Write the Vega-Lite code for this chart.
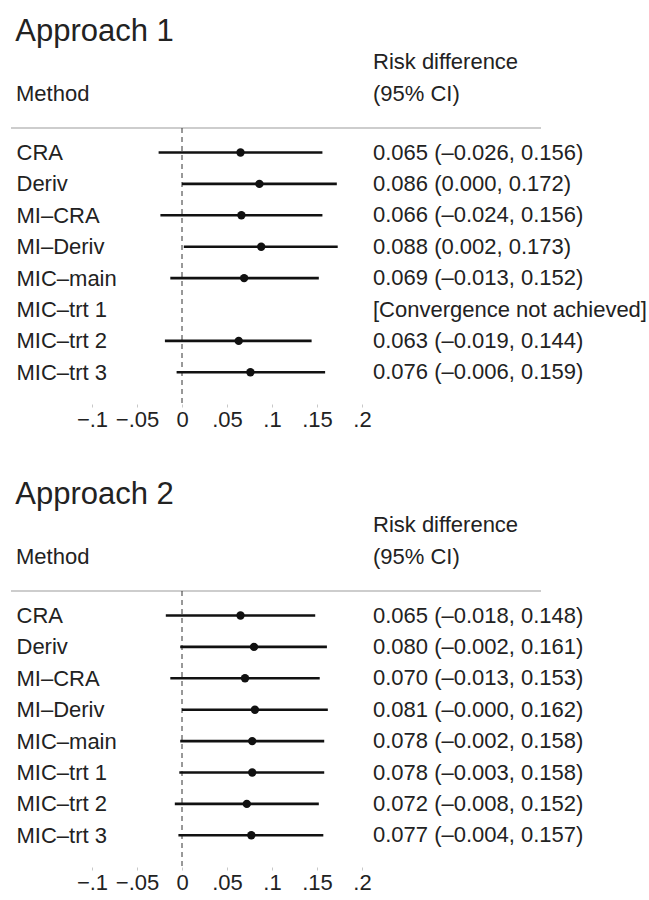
{
  "$schema": "https://vega.github.io/schema/vega-lite/v6.json",
  "padding": {"left": 10, "top": 16, "right": 0, "bottom": 0},
  "autosize": {"type": "pad"},
  "background": "white",
  "config": {
    "font": "Liberation Sans",
    "view": {"stroke": null},
    "title": {"font": "Liberation Sans", "fontWeight": "normal", "color": "#222222", "anchor": "start"},
    "axis": {"labelFont": "Liberation Sans"}
  },
  "datasets": {
    "a1": [
      {"method": "CRA", "est": 0.065, "lo": -0.026, "hi": 0.156, "ci": "0.065 (–0.026, 0.156)"},
      {"method": "Deriv", "est": 0.086, "lo": 0.000, "hi": 0.172, "ci": "0.086 (0.000, 0.172)"},
      {"method": "MI–CRA", "est": 0.066, "lo": -0.024, "hi": 0.156, "ci": "0.066 (–0.024, 0.156)"},
      {"method": "MI–Deriv", "est": 0.088, "lo": 0.002, "hi": 0.173, "ci": "0.088 (0.002, 0.173)"},
      {"method": "MIC–main", "est": 0.069, "lo": -0.013, "hi": 0.152, "ci": "0.069 (–0.013, 0.152)"},
      {"method": "MIC–trt 1", "est": null, "lo": null, "hi": null, "ci": "[Convergence not achieved]"},
      {"method": "MIC–trt 2", "est": 0.063, "lo": -0.019, "hi": 0.144, "ci": "0.063 (–0.019, 0.144)"},
      {"method": "MIC–trt 3", "est": 0.076, "lo": -0.006, "hi": 0.159, "ci": "0.076 (–0.006, 0.159)"}
    ],
    "a2": [
      {"method": "CRA", "est": 0.065, "lo": -0.018, "hi": 0.148, "ci": "0.065 (–0.018, 0.148)"},
      {"method": "Deriv", "est": 0.080, "lo": -0.002, "hi": 0.161, "ci": "0.080 (–0.002, 0.161)"},
      {"method": "MI–CRA", "est": 0.070, "lo": -0.013, "hi": 0.153, "ci": "0.070 (–0.013, 0.153)"},
      {"method": "MI–Deriv", "est": 0.081, "lo": -0.000, "hi": 0.162, "ci": "0.081 (–0.000, 0.162)"},
      {"method": "MIC–main", "est": 0.078, "lo": -0.002, "hi": 0.158, "ci": "0.078 (–0.002, 0.158)"},
      {"method": "MIC–trt 1", "est": 0.078, "lo": -0.003, "hi": 0.158, "ci": "0.078 (–0.003, 0.158)"},
      {"method": "MIC–trt 2", "est": 0.072, "lo": -0.008, "hi": 0.152, "ci": "0.072 (–0.008, 0.152)"},
      {"method": "MIC–trt 3", "est": 0.077, "lo": -0.004, "hi": 0.157, "ci": "0.077 (–0.004, 0.157)"}
    ]
  },
  "spacing": 48,
  "vconcat": [
    {
      "title": {"text": "Approach 1", "fontSize": 31, "dx": 5, "offset": 2},
      "data": {"name": "a1"},
      "spacing": 0,
      "bounds": "flush",
      "hconcat": [
        {
          "width": 362,
          "height": 276,
          "title": {"text": "Method", "fontSize": 22, "dx": 5, "offset": 22},
          "view": {"stroke": "#bdbdbd", "strokeWidth": 1.5, "strokeDash": [362, 5000]},
          "layer": [
            {
              "data": {"values": [{}]},
              "mark": {"type": "rule", "color": "#333333", "strokeWidth": 1, "strokeDash": [5, 4]},
              "encoding": {
                "x": {"datum": 0, "type": "quantitative", "scale": {"domain": [-0.19, 0.2122], "nice": false, "zero": false}}
              }
            },
            {
              "mark": {"type": "rule", "color": "#111111", "strokeWidth": 2.6},
              "encoding": {
                "x": {"field": "lo", "type": "quantitative", "scale": {"domain": [-0.19, 0.2122], "nice": false, "zero": false},
                  "axis": {"values": [-0.1, -0.05, 0, 0.05, 0.1, 0.15, 0.2], "labelExpr": "replace(format(datum.value, '~g'), '0.', '.')", "domain": false, "grid": false, "ticks": true, "tickSize": 3, "tickColor": "#c8c8c8", "labelFontSize": 22, "labelColor": "#222222", "labelPadding": 2, "title": null, "labelOverlap": false, "labelFlush": false}},
                "x2": {"field": "hi"},
                "y": {"field": "method", "type": "nominal", "sort": null,
                  "scale": {"type": "point", "domain": ["CRA", "Deriv", "MI–CRA", "MI–Deriv", "MIC–main", "MIC–trt 1", "MIC–trt 2", "MIC–trt 3"], "padding": 0.895, "align": 0.436},
                  "axis": {"orient": "left", "labelAlign": "left", "labelPadding": -5, "tickSize": 0, "ticks": false, "domain": false, "grid": false, "title": null, "labelFontSize": 22, "labelColor": "#222222", "labelLimit": 300}}
              }
            },
            {
              "mark": {"type": "point", "filled": true, "opacity": 1, "color": "#111111", "size": 70},
              "encoding": {
                "x": {"field": "est", "type": "quantitative"},
                "y": {"field": "method", "type": "nominal", "sort": null}
              }
            }
          ]
        },
        {
          "width": 168,
          "height": 276,
          "title": {"text": ["Risk difference", "(95% CI)"], "fontSize": 22, "lineHeight": 32, "offset": 22},
          "view": {"stroke": "#bdbdbd", "strokeWidth": 1.5, "strokeDash": [168, 5000]},
          "mark": {"type": "text", "align": "left", "baseline": "middle", "fontSize": 22, "color": "#222222"},
          "encoding": {
            "y": {"field": "method", "type": "nominal", "sort": null,
              "scale": {"type": "point", "domain": ["CRA", "Deriv", "MI–CRA", "MI–Deriv", "MIC–main", "MIC–trt 1", "MIC–trt 2", "MIC–trt 3"], "padding": 0.895, "align": 0.436},
              "axis": null},
            "x": {"value": 0},
            "text": {"field": "ci"}
          }
        }
      ]
    },
    {
      "title": {"text": "Approach 2", "fontSize": 31, "dx": 5, "offset": 2},
      "data": {"name": "a2"},
      "spacing": 0,
      "bounds": "flush",
      "hconcat": [
        {
          "width": 362,
          "height": 276,
          "title": {"text": "Method", "fontSize": 22, "dx": 5, "offset": 22},
          "view": {"stroke": "#bdbdbd", "strokeWidth": 1.5, "strokeDash": [362, 5000]},
          "layer": [
            {
              "data": {"values": [{}]},
              "mark": {"type": "rule", "color": "#333333", "strokeWidth": 1, "strokeDash": [5, 4]},
              "encoding": {
                "x": {"datum": 0, "type": "quantitative", "scale": {"domain": [-0.19, 0.2122], "nice": false, "zero": false}}
              }
            },
            {
              "mark": {"type": "rule", "color": "#111111", "strokeWidth": 2.6},
              "encoding": {
                "x": {"field": "lo", "type": "quantitative", "scale": {"domain": [-0.19, 0.2122], "nice": false, "zero": false},
                  "axis": {"values": [-0.1, -0.05, 0, 0.05, 0.1, 0.15, 0.2], "labelExpr": "replace(format(datum.value, '~g'), '0.', '.')", "domain": false, "grid": false, "ticks": true, "tickSize": 3, "tickColor": "#c8c8c8", "labelFontSize": 22, "labelColor": "#222222", "labelPadding": 2, "title": null, "labelOverlap": false, "labelFlush": false}},
                "x2": {"field": "hi"},
                "y": {"field": "method", "type": "nominal", "sort": null,
                  "scale": {"type": "point", "domain": ["CRA", "Deriv", "MI–CRA", "MI–Deriv", "MIC–main", "MIC–trt 1", "MIC–trt 2", "MIC–trt 3"], "padding": 0.895, "align": 0.436},
                  "axis": {"orient": "left", "labelAlign": "left", "labelPadding": -5, "tickSize": 0, "ticks": false, "domain": false, "grid": false, "title": null, "labelFontSize": 22, "labelColor": "#222222", "labelLimit": 300}}
              }
            },
            {
              "mark": {"type": "point", "filled": true, "opacity": 1, "color": "#111111", "size": 70},
              "encoding": {
                "x": {"field": "est", "type": "quantitative"},
                "y": {"field": "method", "type": "nominal", "sort": null}
              }
            }
          ]
        },
        {
          "width": 168,
          "height": 276,
          "title": {"text": ["Risk difference", "(95% CI)"], "fontSize": 22, "lineHeight": 32, "offset": 22},
          "view": {"stroke": "#bdbdbd", "strokeWidth": 1.5, "strokeDash": [168, 5000]},
          "mark": {"type": "text", "align": "left", "baseline": "middle", "fontSize": 22, "color": "#222222"},
          "encoding": {
            "y": {"field": "method", "type": "nominal", "sort": null,
              "scale": {"type": "point", "domain": ["CRA", "Deriv", "MI–CRA", "MI–Deriv", "MIC–main", "MIC–trt 1", "MIC–trt 2", "MIC–trt 3"], "padding": 0.895, "align": 0.436},
              "axis": null},
            "x": {"value": 0},
            "text": {"field": "ci"}
          }
        }
      ]
    }
  ]
}
